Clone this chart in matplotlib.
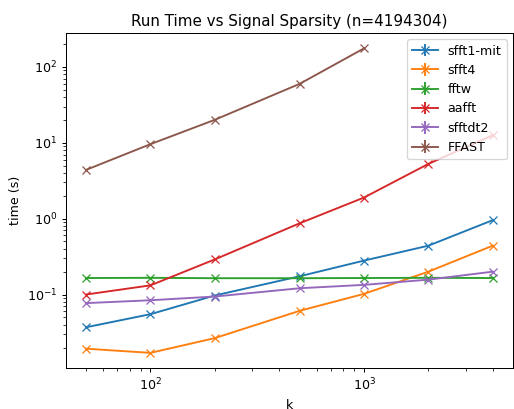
import numpy as np
import matplotlib
matplotlib.use('Agg')
import matplotlib.pyplot as plt

k = [50, 100, 200, 500, 1000, 2000, 4000]

sfft1_mit = [0.037, 0.055, 0.097, 0.174, 0.28, 0.44, 0.955]
sfft4 = [0.0193, 0.017, 0.0266, 0.061, 0.102, 0.20, 0.44]
fftw = [0.165, 0.166, 0.164, 0.164, 0.165, 0.166, 0.165]
aafft = [0.10, 0.132, 0.29, 0.87, 1.9, 5.27, 12.6]
sfftdt2 = [0.077, 0.084, 0.094, 0.121, 0.134, 0.157, 0.20]
ffast_k = [50, 100, 200, 500, 1000]
ffast = [4.4, 9.6, 20.1, 60.0, 176.0]

series = [
    (k, sfft1_mit, 'sfft1-mit'),
    (k, sfft4, 'sfft4'),
    (k, fftw, 'fftw'),
    (k, aafft, 'aafft'),
    (k, sfftdt2, 'sfftdt2'),
    (ffast_k, ffast, 'FFAST'),
]

dpi = 91
fig = plt.figure(figsize=(514 / dpi, 409 / dpi), dpi=dpi)
ax = fig.add_axes([0.128, 0.1, 0.87, 0.819])

for xs, ys, name in series:
    # errorbar with zero error -> asterisk-like legend handle
    ax.errorbar(xs, ys, yerr=[0] * len(ys), marker='x', label=name)

ax.set_xscale('log')
ax.set_yscale('log')
ax.set_xlabel('k')
ax.set_ylabel('time (s)')
ax.set_title('Run Time vs Signal Sparsity (n=4194304)')
ax.legend(loc='upper right')

fig.savefig('out.png', dpi=dpi)
